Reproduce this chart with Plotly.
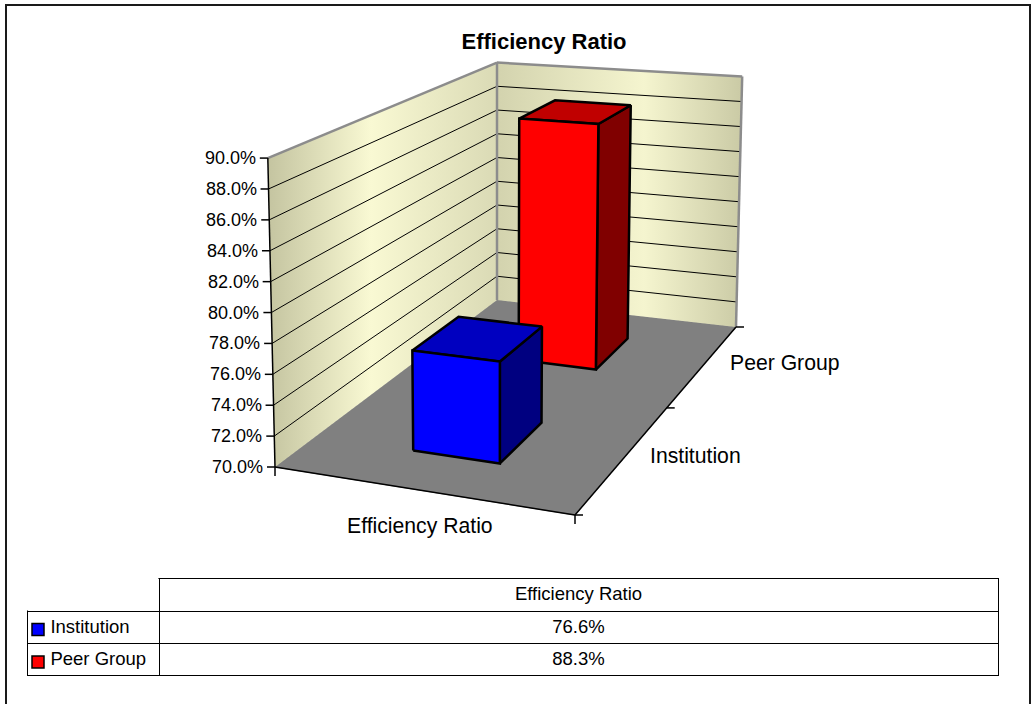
import math
import plotly.graph_objects as go

# ---------------- data ----------------
categories = ["Efficiency Ratio"]
series_names = ["Institution", "Peer Group"]
values = [76.6, 88.3]            # percent
front_colors = ["#0000FF", "#FF0000"]
top_colors = ["#0000C0", "#C00000"]
side_colors = ["#000080", "#800000"]
z_ticks = [70, 72, 74, 76, 78, 80, 82, 84, 86, 88, 90]
z_tick_labels = [f"{v:.1f}%" for v in z_ticks]

# ---------------- layout / style constants ----------------
FONT = "Liberation Sans, Arial, sans-serif"
OFF = 0                      # page offset (body margin removed below)
W, H = 1034 - OFF, 704 - OFF
# floor corners of the 3-D box in page pixels: front-left, front-right, back-right, back-left
FLOOR = [(275, 467), (575, 515), (736, 327), (497, 300)]
WALL_H = 309                 # height of the front-left wall edge in px
VP = (497, 10000)            # vanishing point of vertical edges
BAR_W = 0.30                 # bar width as share of a category slot
BAR_D = 0.40                 # bar depth as share of a series slot

# homography: unit square (u across categories, w into depth) -> floor quad
(x0, y0), (x1, y1), (x2, y2), (x3, y3) = FLOOR
dx1, dx2, dx3 = x1 - x2, x3 - x2, x0 - x1 + x2 - x3
dy1, dy2, dy3 = y1 - y2, y3 - y2, y0 - y1 + y2 - y3
den0 = dx1 * dy2 - dx2 * dy1
g = (dx3 * dy2 - dx2 * dy3) / den0
h = (dx1 * dy3 - dx3 * dy1) / den0
a, b, c = x1 - x0 + g * x1, x3 - x0 + h * x3, x0
d, e, f = y1 - y0 + g * y1, y3 - y0 + h * y3, y0

zmin, zmax = z_ticks[0], z_ticks[-1]


def proj(u, w, val):
    """project (category-u, series-w, value) to page pixels"""
    t = (val - zmin) / (zmax - zmin)
    dn = 1 + g * u + h * w
    X = (a * u + b * w + c) / dn
    Y = (d * u + e * w + f) / dn
    L = WALL_H * t / dn
    vx, vy = X - VP[0], Y - VP[1]
    n = math.hypot(vx, vy)
    return X + vx / n * L, Y + vy / n * L


def poly(pts, fill, line_color="black", lw=2.5, **kw):
    xs = [p[0] for p in pts] + [pts[0][0]]
    ys = [p[1] for p in pts] + [pts[0][1]]
    return go.Scatter(x=xs, y=ys, mode="lines", fill="toself", fillcolor=fill,
                      line=dict(color=line_color, width=lw), hoverinfo="skip",
                      showlegend=False, **kw)


def seg_trace(segs, color, width):
    xs, ys = [], []
    for p, q in segs:
        xs += [p[0], q[0], None]
        ys += [p[1], q[1], None]
    return go.Scatter(x=xs, y=ys, mode="lines", line=dict(color=color, width=width),
                      hoverinfo="skip", showlegend=False)


def wall(corners, scale):
    xs = [p[0] for p in corners] + [corners[0][0]]
    ys = [p[1] for p in corners] + [corners[0][1]]
    return go.Scatter(x=xs, y=ys, mode="lines", fill="toself",
                      line=dict(width=0, color="rgba(0,0,0,0)"),
                      fillgradient=dict(type="horizontal", colorscale=scale),
                      hoverinfo="skip", showlegend=False)


fig = go.Figure()

# floor
fig.add_trace(poly([proj(0, 0, zmin), proj(1, 0, zmin), proj(1, 1, zmin), proj(0, 1, zmin)],
                   "#808080", line_color="#808080", lw=1))
# left wall and back wall (gradient fills)
fig.add_trace(wall([proj(0, 0, zmin), proj(0, 1, zmin), proj(0, 1, zmax), proj(0, 0, zmax)],
                   [[0, "#C4C4A0"], [0.45, "#F9F9D3"], [1, "#DADAB5"]]))
fig.add_trace(wall([proj(0, 1, zmin), proj(1, 1, zmin), proj(1, 1, zmax), proj(0, 1, zmax)],
                   [[0, "#D3D3AE"], [0.6, "#F5F5CF"], [1, "#CACAA5"]]))

# gridlines on the walls
grid = []
for zt in z_ticks[1:-1]:
    grid.append((proj(0, 0, zt), proj(0, 1, zt)))
    grid.append((proj(0, 1, zt), proj(1, 1, zt)))
fig.add_trace(seg_trace(grid, "black", 1))

# wall outlines (gray)
fig.add_trace(seg_trace([
    (proj(0, 0, zmax), proj(0, 1, zmax)),
    (proj(0, 1, zmax), proj(1, 1, zmax)),
    (proj(1, 1, zmax), proj(1, 1, zmin)),
    (proj(0, 1, zmax), proj(0, 1, zmin)),
], "#8C8C8C", 2.5))

# axes (black): value axis, category axis, series axis + tick marks
ax_segs = [
    (proj(0, 0, zmin), proj(0, 0, zmax)),
    (proj(0, 0, zmin), proj(1, 0, zmin)),
    (proj(1, 0, zmin), proj(1, 1, zmin)),
]
for zt in z_ticks:
    p = proj(0, 0, zt)
    ax_segs.append(((p[0] - 8, p[1]), p))
nc, ns = len(categories), len(series_names)
for i in range(nc + 1):
    p = proj(i / nc, 0, zmin)
    ax_segs.append((p, (p[0], p[1] + 9)))
for s in range(ns + 1):
    p = proj(1, s / ns, zmin)
    ax_segs.append((p, (p[0] + 8, p[1])))
fig.add_trace(seg_trace(ax_segs, "black", 1.5))

# bars: back series first so front bars overlap them
for ci in range(nc):
    u0 = (ci + 0.5 - BAR_W / 2) / nc
    u1 = (ci + 0.5 + BAR_W / 2) / nc
    for si in reversed(range(ns)):
        v = values[si]
        w0 = (si + 0.5 - BAR_D / 2) / ns
        w1 = (si + 0.5 + BAR_D / 2) / ns
        fig.add_trace(poly([proj(u1, w0, zmin), proj(u1, w1, zmin), proj(u1, w1, v), proj(u1, w0, v)],
                           side_colors[si]))
        fig.add_trace(poly([proj(u0, w0, v), proj(u1, w0, v), proj(u1, w1, v), proj(u0, w1, v)],
                           top_colors[si]))
        fig.add_trace(poly([proj(u0, w0, zmin), proj(u1, w0, zmin), proj(u1, w0, v), proj(u0, w0, v)],
                           front_colors[si]))

# text labels
ann = []
for zt, lab in zip(z_ticks, z_tick_labels):
    p = proj(0, 0, zt)
    ann.append(dict(x=p[0] - 10, y=p[1], text=lab, xanchor="right", yanchor="middle",
                    showarrow=False, font=dict(family=FONT, size=18, color="black")))
for ci, cat in enumerate(categories):
    p = proj((ci + 0.5) / nc, 0, zmin)
    ann.append(dict(x=p[0], y=p[1] + 36, text=cat, xanchor="center", yanchor="middle",
                    showarrow=False, font=dict(family=FONT, size=21.2, color="black")))
for si, name in enumerate(series_names):
    p = proj(1, (si + 0.5) / ns, zmin)
    ann.append(dict(x=p[0] + 24, y=p[1] - 2, text=name, xanchor="left", yanchor="middle",
                    showarrow=False, font=dict(family=FONT, size=21.2, color="black")))

# data table
TBL_L, TBL_M, TBL_R, TBL_T = 27, 159, 998, 578
fig.add_trace(go.Table(
    domain=dict(x=[(TBL_L - OFF) / W, (TBL_R - OFF) / W], y=[0, 1 - (TBL_T - OFF) / H]),
    columnwidth=[TBL_M - TBL_L, TBL_R - TBL_M],
    header=dict(values=["", categories[0]], height=33, align="center",
                fill_color="white", line=dict(color="black", width=1),
                font=dict(family=FONT, size=18.5, color="black")),
    cells=dict(values=[["\u00a0\u00a0\u00a0" + n.replace(" ", "\u00a0") for n in series_names],
                       [f"{v:.1f}%" for v in values]],
               height=32, align=["left", "center"], fill_color="white",
               line=dict(color="black", width=1),
               font=dict(family=FONT, size=18.5, color="black")),
))

shapes = [
    dict(type="rect", xref="x", yref="y", x0=6, x1=1030, y0=5, y1=760,
         line=dict(color="#1a1a1a", width=2), layer="above"),
    # hide the border of the empty header corner cell
    dict(type="rect", xref="x", yref="y", x0=TBL_L - 6, x1=TBL_M - 0.6,
         y0=TBL_T - 6, y1=TBL_T + 32.4, fillcolor="white", line=dict(width=0), layer="above"),
]
for si in range(ns):
    top = 623.5 + si * 32.5
    shapes.append(dict(type="rect", xref="x", yref="y", x0=32, x1=44, y0=top, y1=top + 12,
                       fillcolor=front_colors[si], line=dict(color="black", width=1.5),
                       layer="above"))

fig.update_layout(
    width=W, height=H, autosize=False,
    margin=dict(l=0, r=0, t=0, b=0, pad=0),
    paper_bgcolor="white", plot_bgcolor="white",
    showlegend=False,
    xaxis=dict(range=[OFF, OFF + W], visible=False, fixedrange=True, domain=[0, 1]),
    yaxis=dict(range=[OFF + H, OFF], visible=False, fixedrange=True, domain=[0, 1]),
    title=dict(text="<b>Efficiency Ratio</b>", x=(544 - OFF) / W, xanchor="center",
               y=1 - (41 - OFF) / H, yanchor="middle", yref="paper",
               font=dict(family=FONT, size=22, color="black")),
    annotations=ann,
    shapes=shapes,
)

fig.write_html("out.html", config={"displayModeBar": False, "staticPlot": True},
               post_script="document.body.style.margin='0';")
